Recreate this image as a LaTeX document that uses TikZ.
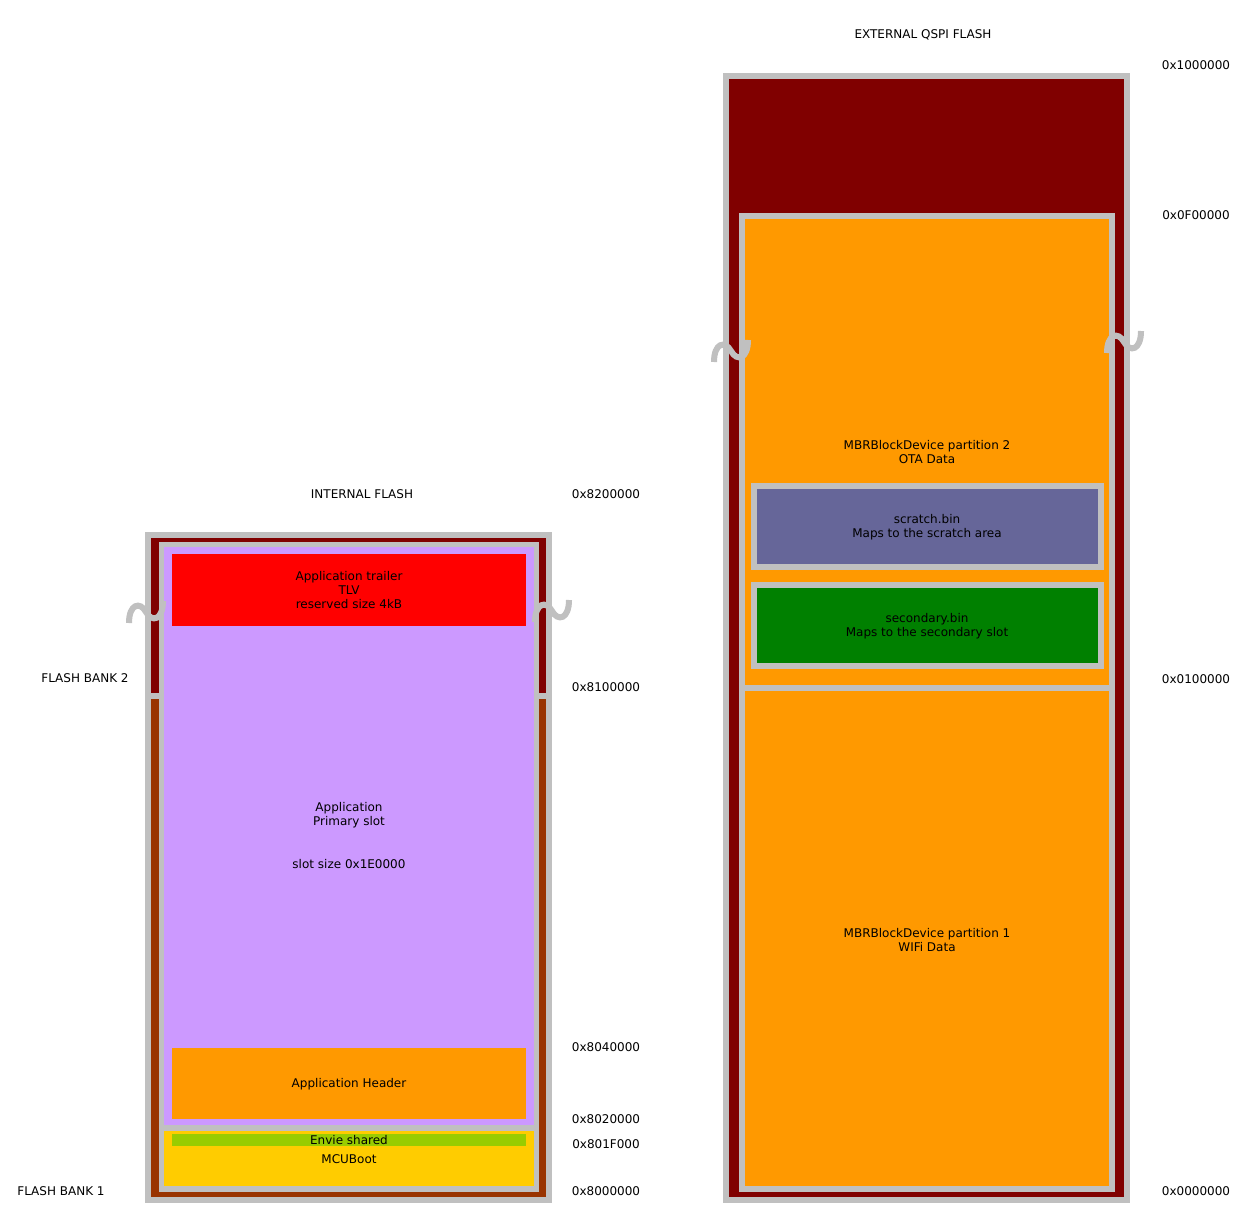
\documentclass[tikz,border=0pt]{standalone}
\usepackage{fontspec}
\setmainfont{DejaVu Sans}
\definecolor{cDarkRed}{HTML}{800000}
\definecolor{cBrown}{HTML}{993300}
\definecolor{cLav}{HTML}{CC99FF}
\definecolor{cRed}{HTML}{FF0000}
\definecolor{cOrange}{HTML}{FF9900}
\definecolor{cYellow}{HTML}{FFCC00}
\definecolor{cLime}{HTML}{99CC00}
\definecolor{cSlate}{HTML}{666699}
\definecolor{cGreen}{HTML}{008000}
\definecolor{cGray}{HTML}{C0C0C0}
\begin{document}
\begin{tikzpicture}[x={(1pt,0)},y={(0,-1pt)},
  region/.style={draw=cGray,line width=6pt},
  lbl/.style={font=\fontsize{12}{14}\selectfont,align=center,inner sep=0pt,text=black},
  breakline/.style={draw=cGray,line width=6pt},
  brk/.pic={\draw[breakline] (-17,11) .. controls (-17,-8) and (-6,-11) .. (0,0) .. controls (6,11) and (17,8) .. (17,-11);}
]
\useasboundingbox[fill=white] (0,0) rectangle (1257,1216);

% ---------- INTERNAL FLASH ----------
\filldraw[region,fill=cDarkRed] (148,534.5) rectangle (548.5,696);
\filldraw[region,fill=cBrown] (148,696) rectangle (548.5,1200);
\filldraw[region,line width=5.5pt,fill=cLav] (161.7,544.5) rectangle (536.7,1128);
\filldraw[region,line width=5.5pt,fill=cYellow] (161.7,1128.5) rectangle (536.7,1189);
\fill[cRed] (171.7,554) rectangle (525.7,626);
\fill[cOrange] (171.7,1047.7) rectangle (525.7,1119.3);
\fill[cLime] (171.7,1134) rectangle (525.7,1145.7);

\pic at (146,612) {brk};
\pic at (552,611) {brk};

\node[lbl] (trailer) at (349,590) {Application trailer\\TLV\\reserved size 4kB};
\node[lbl] (app) at (349,815.5) {Application\\Primary slot};
\node[lbl] (slotsize) at (349,864) {slot size 0x1E0000};
\node[lbl] (hdr) at (349,1084) {Application Header};
\node[lbl] (envie) at (349,1140) {Envie shared};
\node[lbl] (mcuboot) at (349,1159) {MCUBoot};

\node[lbl] (intflash) at (362,494) {INTERNAL FLASH};
\node[lbl] (bank2) at (85,678) {FLASH BANK 2};
\node[lbl] (bank1) at (61,1191) {FLASH BANK 1};
\node[lbl] (a8200) at (606,494) {0x8200000};
\node[lbl] (a8100) at (606,687) {0x8100000};
\node[lbl] (a8040) at (606,1047) {0x8040000};
\node[lbl] (a8020) at (606,1119) {0x8020000};
\node[lbl] (a801F) at (606,1144) {0x801F000};
\node[lbl] (a8000) at (606,1191) {0x8000000};

% ---------- EXTERNAL QSPI FLASH ----------
\filldraw[region,fill=cDarkRed] (726.3,75.5) rectangle (1127,1199.5);
\filldraw[region,fill=cOrange] (741.5,215.7) rectangle (1112,688);
\filldraw[region,fill=cOrange] (741.5,688) rectangle (1112,1189);
\filldraw[region,fill=cSlate] (753.7,485.5) rectangle (1100.5,567);
\filldraw[region,fill=cGreen] (753.7,584.5) rectangle (1100.5,666.3);

\pic at (731,351) {brk};
\pic at (1124,342) {brk};

\node[lbl] (extflash) at (923,35) {EXTERNAL QSPI FLASH};
\node[lbl] (p2) at (927,452) {MBRBlockDevice partition 2\\OTA Data};
\node[lbl] (scratch) at (927,527) {scratch.bin\\Maps to the scratch area};
\node[lbl] (secondary) at (927,626) {secondary.bin\\Maps to the secondary slot};
\node[lbl] (p1) at (927,940) {MBRBlockDevice partition 1\\WIFi Data};
\node[lbl] (b1000) at (1196,65) {0x1000000};
\node[lbl] (b0F00) at (1196,215) {0x0F00000};
\node[lbl] (b0100) at (1196,679) {0x0100000};
\node[lbl] (b0000) at (1196,1191) {0x0000000};
\end{tikzpicture}
\end{document}
